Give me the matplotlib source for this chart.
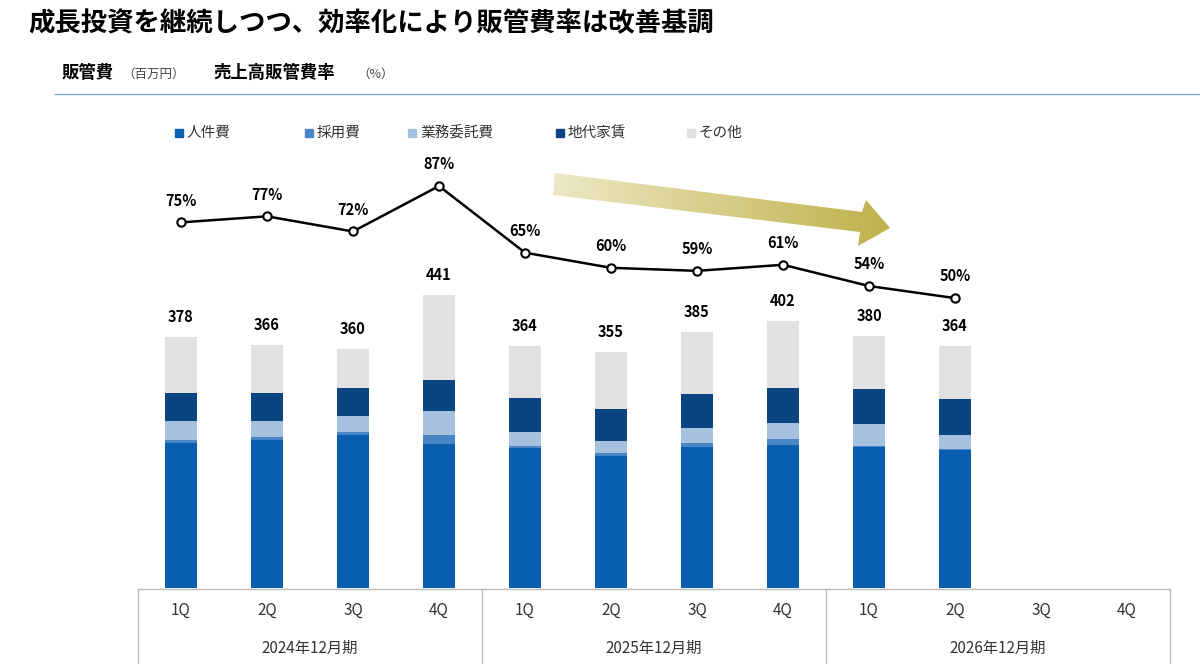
import matplotlib
matplotlib.use("Agg")
import matplotlib.pyplot as plt
import numpy as np
from matplotlib.patches import Polygon
from matplotlib.colors import LinearSegmentedColormap

plt.rcParams['font.family'] = ['Noto Sans CJK JP', 'DejaVu Sans']

quarters = ["1Q", "2Q", "3Q", "4Q"] * 3
periods = ["2024年12月期", "2025年12月期", "2026年12月期"]
series_names = ["人件費", "採用費", "業務委託費", "地代家賃", "その他"]
colors = ["#0A5EB0", "#4A86C5", "#A6C1DE", "#0B4581", "#E1E1E1"]
jinken = [218, 223, 230, 217, 211, 199, 212, 215, 212, 208]
saiyo = [5, 5, 5, 14, 3, 5, 6, 9, 2, 2]
gyomu = [29, 24, 24, 35, 21, 18, 23, 24, 33, 21]
chidai = [42, 42, 42, 47, 51, 48, 51, 53, 53, 53]
totals = [378, 366, 360, 441, 364, 355, 385, 402, 380, 364]
ratio = [75, 77, 72, 87, 65, 60, 59, 61, 54, 50]
sonota = [t - a - b - c - d for t, a, b, c, d in zip(totals, jinken, saiyo, gyomu, chidai)]

W, H = 1200, 664
fig = plt.figure(figsize=(12, 6.64), dpi=100)
ax = fig.add_axes([138 / W, 1 - 588 / H, 1032 / W, (588 - 110) / H])
ax.set_xlim(-0.5, 11.5)
ax.set_ylim(0, 720)
ax.axis("off")
x = np.arange(len(totals))
bottom = np.zeros(len(totals))
for vals, c, n in zip([jinken, saiyo, gyomu, chidai, sonota], colors, series_names):
    ax.bar(x, vals, bottom=bottom, width=0.37, color=c, label=n)
    bottom += np.array(vals)
for xi, t in zip(x, totals):
    ax.text(xi, t + 18, str(t), ha="center", va="bottom", fontsize=10.5, fontweight="bold")

ax2 = ax.twinx()
ax2.set_ylim(-45.7, 112.1)
ax2.axis("off")
ax2.plot(x, ratio, color="black", lw=1.8, marker="o", ms=6, mfc="white", mec="black", mew=1.5)
for xi, r in zip(x, ratio):
    ax2.text(xi, r + 4.5, f"{r}%", ha="center", va="bottom", fontsize=10.5, fontweight="bold")

# gradient arrow
fa = fig.add_axes([0, 0, 1, 1], zorder=-1 if False else 5)
fa.set_xlim(0, W); fa.set_ylim(H, 0); fa.axis("off")
pts = [(555, 173), (862, 212), (866, 200), (890, 228), (858, 246), (860, 232), (553, 195)]
poly = Polygon(pts, closed=True, facecolor="none", edgecolor="none")
fa.add_patch(poly)
cmap = LinearSegmentedColormap.from_list("g", ["#EDE8C4", "#BFB14A"])
grad = np.linspace(0, 1, 256).reshape(1, -1)
im = fa.imshow(grad, extent=[553, 890, 250, 170], cmap=cmap, aspect="auto")
im.set_clip_path(poly)

# legend
lx = [175, 305, 408, 556, 687]
for px, n, c in zip(lx, series_names, colors):
    fa.add_patch(plt.Rectangle((px, 129), 8, 8, color=c))
    fa.text(px + 12, 133, n, va="center", fontsize=10.5, color="#333333")

# titles
fa.text(28, 24, "成長投資を継続しつつ、効率化により販管費率は改善基調", fontsize=19, fontweight="bold", va="center")
fa.text(62, 73, "販管費", fontsize=12.5, fontweight="bold", va="center")
fa.text(122, 74, "（百万円）", fontsize=9, va="center", color="#444444")
fa.text(213, 73, "売上高販管費率", fontsize=12.5, fontweight="bold", va="center")
fa.text(357, 74, "（%）", fontsize=9, va="center", color="#444444")
fa.plot([55, 1200], [94, 94], color="#7FA7CC", lw=1)

# table
lc = "#BBBBBB"
fa.plot([138, 1170], [589, 589], color=lc, lw=1)
for vx in [138, 482, 826, 1170]:
    fa.plot([vx, vx], [589, 664], color=lc, lw=1)
for i, q in enumerate(quarters):
    fa.text(181 + 86 * i, 610, q, ha="center", va="center", fontsize=11, color="#333333")
for i, p in enumerate(periods):
    fa.text(310 + 344 * i, 648, p, ha="center", va="center", fontsize=11, color="#333333")

fig.savefig("out.png", dpi=100)
